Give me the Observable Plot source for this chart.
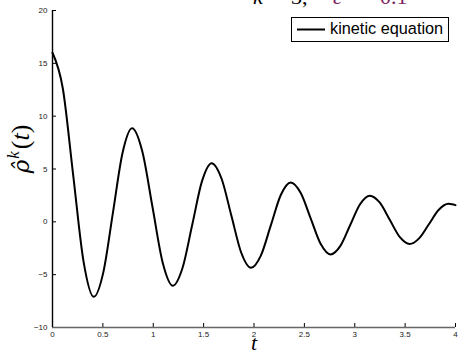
<!DOCTYPE html>
<html><head><meta charset="utf-8">
<script src="https://cdn.jsdelivr.net/npm/d3@7"></script>
<script src="https://cdn.jsdelivr.net/npm/@observablehq/plot@0.6"></script>
<style>
body{margin:0;background:#fff}
#chart{position:relative;width:459px;height:353px;overflow:hidden}
</style>
</head><body><div id="chart"></div>
<script>
// time values (t) and curve values (rho hat ^k (t))
const tValues = [0, 0.1025, 0.205, 0.3075, 0.41, 0.505, 0.60, 0.695, 0.79, 0.891, 0.9925, 1.094, 1.195, 1.291, 1.3875, 1.484, 1.58, 1.6775, 1.775, 1.8725, 1.97, 2.069, 2.1675, 2.266, 2.365, 2.464, 2.5625, 2.661, 2.76, 2.8575, 2.955, 3.0525, 3.15, 3.249, 3.3475, 3.446, 3.545, 3.641, 3.7375, 3.834, 3.93, 3.965, 4.0];
const rhoValues = [16.0, 12.62, 4.45, -3.72, -7.1, -4.76, 0.875, 6.51, 8.85, 6.67, 1.4, -3.87, -6.05, -4.35, -0.25, 3.85, 5.55, 4.1, 0.6, -2.9, -4.35, -3.17, -0.315, 2.54, 3.72, 2.72, 0.32, -2.08, -3.08, -2.27, -0.3, 1.67, 2.48, 1.81, 0.19, -1.43, -2.1, -1.54, -0.2, 1.14, 1.7, 1.67, 1.58];

const xTicks = [0, 0.5, 1, 1.5, 2, 2.5, 3, 3.5, 4];
const xTickLabels = ["0", "0.5", "1", "1.5", "2", "2.5", "3", "3.5", "4"];
const yTicks = [-10, -5, 0, 5, 10, 15, 20];
const yTickLabels = ["\u221210", "\u22125", "0", "5", "10", "15", "20"];
const seriesName = "kinetic equation";
const xLabel = "t";
const titleParts = [["k", "#000", true], ["=", "#000", false], ["3,", "#000", false], ["\u03b5", "#7b1f5e", true], ["=", "#7b1f5e", false], ["0.1", "#7b1f5e", false]];

const data = tValues.map((t, i) => ({t, rho: rhoValues[i]}));

const plot = Plot.plot({
  width: 459, height: 353,
  marginLeft: 52, marginRight: 4, marginTop: 10, marginBottom: 26,
  x: {domain: [0, 4]},
  y: {domain: [-10, 20]},
  style: {background: "white", fontFamily: "'Liberation Sans', Arial, sans-serif", fontSize: "8px", color: "#222"},
  marks: [
    Plot.ruleY(yTicks, {x1: 0, x2: 0.04, stroke: "#000", strokeWidth: 1}),
    Plot.ruleX(xTicks, {y1: -10, y2: -9.62, stroke: "#000", strokeWidth: 1}),
    Plot.axisY({ticks: yTicks, tickSize: 0, tickPadding: 5, label: null,
      tickFormat: d => yTickLabels[yTicks.indexOf(d)]}),
    Plot.axisX({ticks: xTicks, tickSize: 0, tickPadding: 4, label: null,
      tickFormat: d => xTickLabels[xTicks.indexOf(d)]}),
    Plot.ruleY([-10], {stroke: "#666", strokeWidth: 1.4}),
    Plot.ruleX([0], {stroke: "#000", strokeWidth: 1.4}),
    Plot.line(data, {x: "t", y: "rho", curve: "monotone-x", stroke: "#000", strokeWidth: 2})
  ]
});
document.getElementById("chart").appendChild(plot);

const svg = d3.select(plot);
const serif = "'Liberation Serif', 'DejaVu Serif', serif";

// y label
const yl = svg.append("text")
  .attr("transform", "translate(29,149) rotate(-90)")
  .attr("text-anchor", "middle")
  .attr("font-family", serif).attr("font-size", 26).attr("fill", "#000");
yl.append("tspan").attr("font-family", "'DejaVu Serif', serif").attr("font-style", "italic").attr("font-size", 23).text("\u03c1\u0302");
yl.append("tspan").attr("font-style", "italic").attr("font-size", 17).attr("dy", -10).attr("dx", 1).text("k");
yl.append("tspan").attr("dy", 10).attr("dx", 2).text("(");
yl.append("tspan").attr("font-style", "italic").text("t");
yl.append("tspan").text(")");

// x label
svg.append("text")
  .attr("x", 254).attr("y", 350)
  .attr("text-anchor", "middle")
  .attr("font-family", serif).attr("font-style", "italic").attr("font-size", 22).attr("fill", "#000")
  .text(xLabel);

// title (cut off at the top, as in the reference)
const titleX = [253, 272, 291, 333, 351, 380];
titleParts.forEach(([s, c, it], i) => {
  svg.append("text").attr("x", titleX[i]).attr("y", 4)
    .attr("text-anchor", "start")
    .attr("font-family", serif).attr("font-size", 22)
    .attr("font-style", it ? "italic" : "normal")
    .attr("fill", c).text(s);
});

// legend
const lg = svg.append("g");
lg.append("rect").attr("x", 291.5).attr("y", 17.5).attr("width", 157).attr("height", 24)
  .attr("fill", "#fff").attr("stroke", "#000").attr("stroke-width", 1);
lg.append("line").attr("x1", 297).attr("x2", 325).attr("y1", 29.5).attr("y2", 29.5)
  .attr("stroke", "#000").attr("stroke-width", 2);
lg.append("text").attr("x", 330).attr("y", 30).attr("dominant-baseline", "middle")
  .attr("text-anchor", "start")
  .attr("font-family", "'Liberation Sans', Arial, sans-serif").attr("font-size", 16.3).attr("fill", "#000")
  .text(seriesName);
</script>
</body></html>
